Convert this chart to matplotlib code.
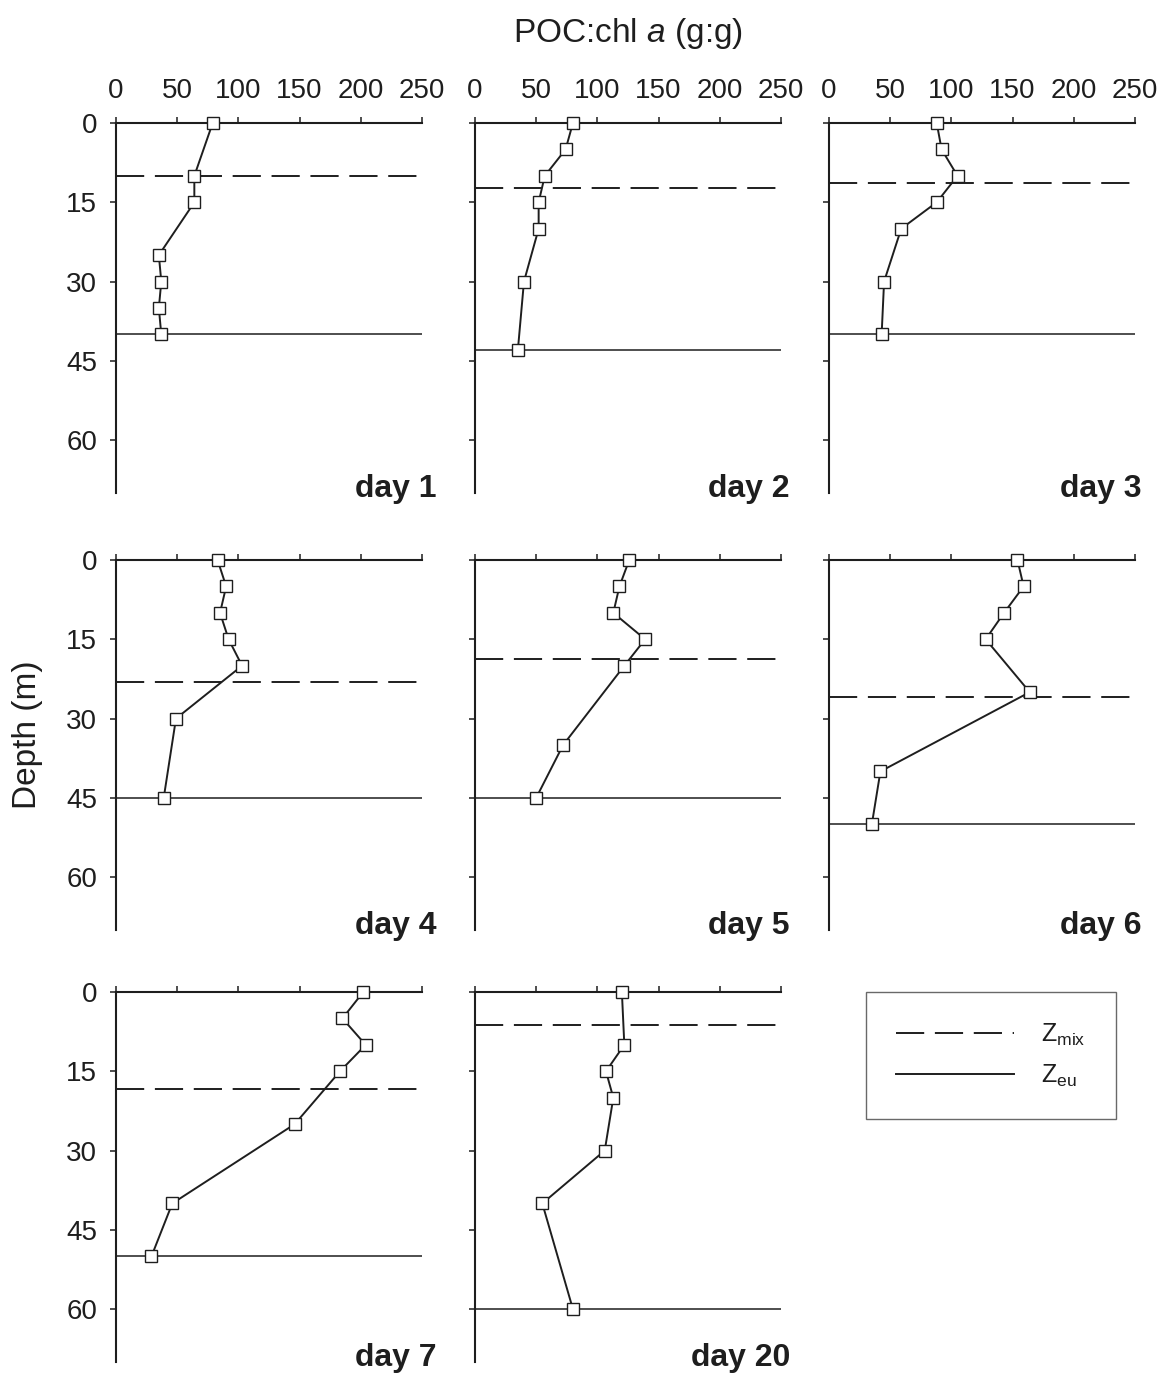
import matplotlib
matplotlib.use('Agg')
import matplotlib.pyplot as plt
from matplotlib.lines import Line2D

plt.rcParams['font.family'] = ['Liberation Sans', 'DejaVu Sans']
plt.rcParams['mathtext.fontset'] = 'custom'
plt.rcParams['mathtext.rm'] = 'Liberation Sans'
plt.rcParams['mathtext.it'] = 'Liberation Sans:italic'

# ---------------- data ----------------
day_labels = ['day 1', 'day 2', 'day 3', 'day 4', 'day 5', 'day 6', 'day 7', 'day 20']

depth_d1 = [0, 10, 15, 25, 30, 35, 40]
poc_d1 = [79, 64, 64, 35, 37, 35, 37]
depth_d2 = [0, 5, 10, 15, 20, 30, 43]
poc_d2 = [80, 74, 57, 52, 52, 40, 35]
depth_d3 = [0, 5, 10, 15, 20, 30, 40]
poc_d3 = [88, 92, 105, 88, 59, 45, 43]
depth_d4 = [0, 5, 10, 15, 20, 30, 45]
poc_d4 = [83, 90, 85, 92, 103, 49, 39]
depth_d5 = [0, 5, 10, 15, 20, 35, 45]
poc_d5 = [126, 118, 113, 139, 122, 72, 50]
depth_d6 = [0, 5, 10, 15, 25, 40, 50]
poc_d6 = [154, 159, 143, 128, 164, 42, 35]
depth_d7 = [0, 5, 10, 15, 25, 40, 50]
poc_d7 = [202, 185, 204, 183, 146, 46, 29]
depth_d20 = [0, 10, 15, 20, 30, 40, 60]
poc_d20 = [120, 122, 107, 113, 106, 55, 80]

z_mix = [10, 12.3, 11.4, 23, 18.8, 26, 18.3, 6.2]
z_eu = [40, 43, 40, 45, 45, 50, 50, 60]

x_ticks = [0, 50, 100, 150, 200, 250]
y_ticks = [0, 15, 30, 45, 60]

depths = [depth_d1, depth_d2, depth_d3, depth_d4, depth_d5, depth_d6, depth_d7, depth_d20]
pocs = [poc_d1, poc_d2, poc_d3, poc_d4, poc_d5, poc_d6, poc_d7, poc_d20]

# ---------------- layout ----------------
W, H = 1164, 1377
fig = plt.figure(figsize=(W / 100, H / 100), dpi=100)

col_left = [116, 475, 829]
row_top = [123, 560, 992]
ax_w, ax_h = 306, 370
label_dx = [14, 9, 7]

INK = '#1e1e1e'
dash_style = (0, (14.5, 5.5))

for i in range(8):
    r, c = divmod(i, 3)
    l = col_left[c] / W
    b = 1 - (row_top[r] + ax_h) / H
    ax = fig.add_axes([l, b, ax_w / W, ax_h / H])
    ax.set_xlim(0, 250)
    ax.set_ylim(70, 0)
    ax.axhline(z_mix[i], color=INK, lw=1.4, linestyle=dash_style)
    ax.axhline(z_eu[i], color=INK, lw=1.1)
    ax.plot(pocs[i], depths[i], color=INK, lw=1.4, marker='s', ms=8.5,
            mfc='white', mec=INK, mew=1.0, clip_on=False, zorder=5)
    for s in ['right', 'bottom']:
        ax.spines[s].set_visible(False)
    for s in ['left', 'top']:
        ax.spines[s].set_linewidth(1.5)
        ax.spines[s].set_color(INK)
    ax.xaxis.tick_top()
    ax.set_xticks(x_ticks)
    ax.set_yticks(y_ticks)
    ax.tick_params(axis='both', direction='out', length=4.5, width=1.1,
                   color=INK, labelsize=20, labelcolor=INK, pad=9)
    if r != 0:
        ax.tick_params(axis='x', labeltop=False)
    if c != 0:
        ax.tick_params(axis='y', labelleft=False)
    ax.text(1 + label_dx[c] / ax_w, -0.012, day_labels[i], transform=ax.transAxes,
            ha='right', va='baseline', fontsize=23, fontweight='bold', color=INK)

fig.text(628 / W, 1 - 42 / H, r'POC:chl $\mathit{a}$ (g:g)', ha='center', va='baseline',
         fontsize=24, color=INK)
fig.text(28 / W, 1 - 735 / H, 'Depth (m)', rotation=90, ha='center', va='center',
         fontsize=24, color=INK)

handles = [Line2D([], [], color=INK, lw=1.4, linestyle=dash_style),
           Line2D([], [], color=INK, lw=1.4)]
labels = [r'$\mathregular{Z_{mix}}$', r'$\mathregular{Z_{eu}}$']
leg = fig.legend(handles, labels, loc='upper left', bbox_to_anchor=(866 / W, 1 - 992 / H),
                 borderaxespad=0, fontsize=18, handlelength=4.7, handletextpad=1.1,
                 borderpad=1.2, labelspacing=0.6, fancybox=False, frameon=True)
leg.get_frame().set_edgecolor('#444444')
leg.get_frame().set_linewidth(1.0)
for t in leg.get_texts():
    t.set_color(INK)

fig.savefig('out.png', dpi=100)
